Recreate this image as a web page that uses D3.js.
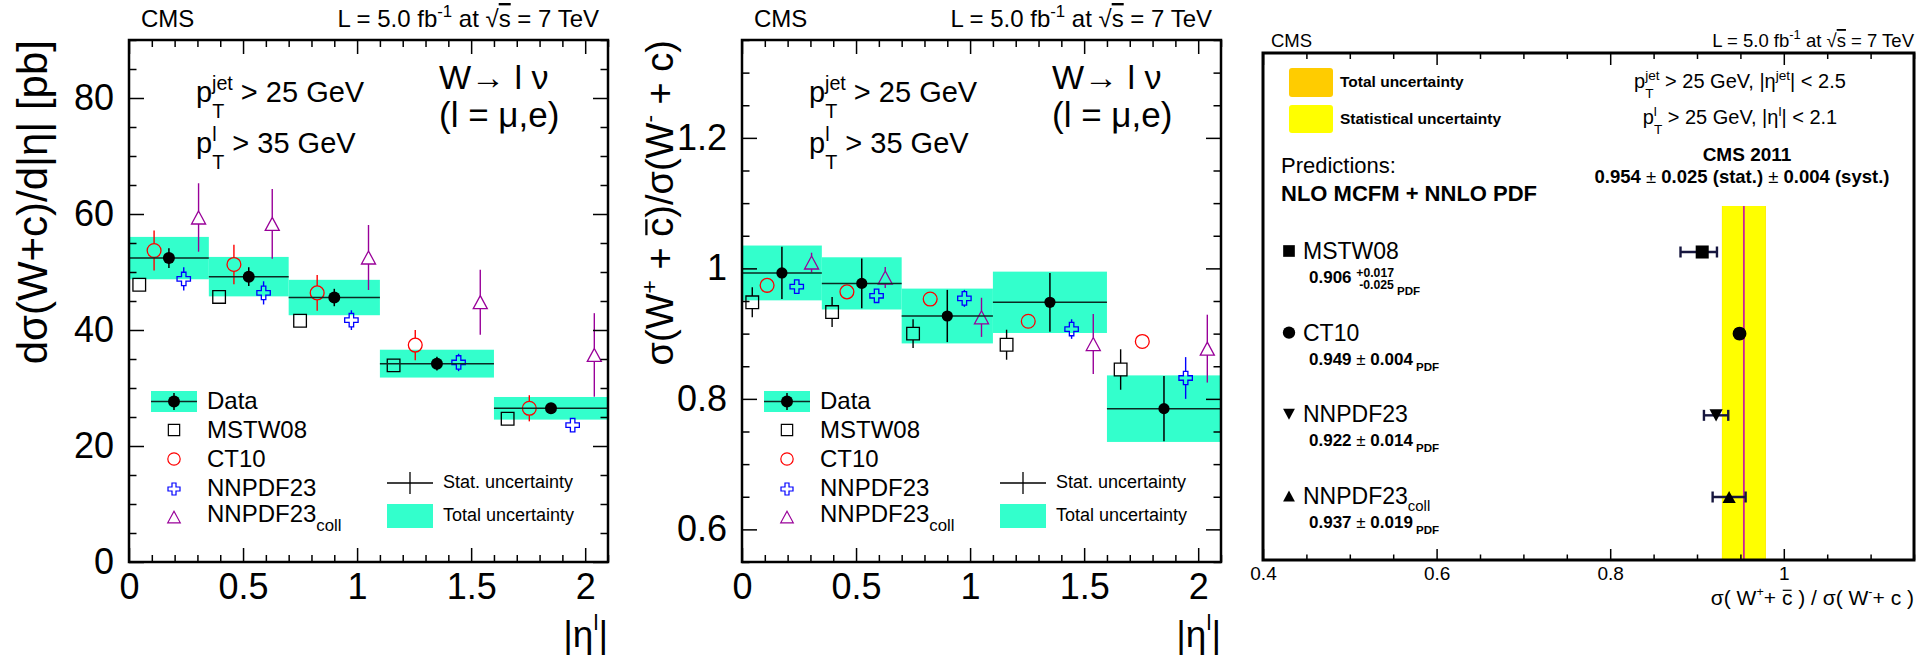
<!DOCTYPE html>
<html>
<head>
<meta charset="utf-8">
<script src="https://cdn.jsdelivr.net/npm/d3@7"></script>
<style>
  body { margin: 0; background: #fff; }
  text { font-family: "Liberation Sans", Arial, Helvetica, sans-serif; white-space: pre; fill: #000; }
</style>
</head>
<body>
<svg id="chart" width="1930" height="659"></svg>
<script>
// ---- data ----
const etaEdges = [0, 0.35, 0.7, 1.1, 1.6, 2.1];
const etaData  = [0.175, 0.525, 0.9, 1.35, 1.85];
const etaMSTW  = [0.045, 0.395, 0.75, 1.16, 1.66];
const etaCT10  = [0.11, 0.46, 0.825, 1.255, 1.755];
const etaNNPDF = [0.24, 0.59, 0.975, 1.445, 1.945];
const etaColl  = [0.305, 0.628, 1.05, 1.54, 2.04];

// dsigma/d|eta| [pb]
const xsData  = [52.4, 49.2, 45.6, 34.2, 26.5];
const xsStat  = [1.7, 1.6, 1.5, 1.2, 0.7];
const xsTotal = [3.65, 3.4, 3.05, 2.4, 1.95];
const xsMSTW  = [47.8, 45.7, 41.6, 33.9, 24.7];
const xsMSTWErr = [0, 0, 0, 0, 0];
const xsCT10  = [53.7, 51.3, 46.4, 37.4, 26.5];
const xsCT10Err = [3.45, 3.4, 3.1, 2.6, 2.25];
const xsNNPDF = [48.8, 46.4, 41.7, 34.4, 23.6];
const xsNNPDFErr = [2.0, 2.0, 1.7, 1.5, 1.0];
const xsColl  = [59.4, 58.3, 52.5, 44.8, 35.7];
const xsCollErr = [5.9, 6.0, 5.6, 5.6, 7.2];

// ratio W+cbar / W-c
const rData  = [0.993, 0.977, 0.927, 0.948, 0.785];
const rStat  = [0.040, 0.038, 0.040, 0.045, 0.050];
const rTotal = [0.042, 0.040, 0.042, 0.047, 0.051];
const rMSTW  = [0.948, 0.933, 0.900, 0.883, 0.845];
const rMSTWErr = [0.023, 0.023, 0.022, 0.023, 0.031];
const rCT10  = [0.974, 0.964, 0.953, 0.919, 0.888];
const rCT10Err = [0.004, 0.004, 0.004, 0.004, 0.004];
const rNNPDF = [0.972, 0.958, 0.954, 0.907, 0.832];
const rNNPDFErr = [0.010, 0.010, 0.013, 0.015, 0.032];
const rColl  = [1.009, 0.986, 0.925, 0.884, 0.877];
const rCollErr = [0.015, 0.016, 0.030, 0.046, 0.052];

// integrated ratio
const predNames = ["MSTW08", "CT10", "NNPDF23", "NNPDF23coll"];
const predValue = [0.906, 0.949, 0.922, 0.937];
const predErrUp = [0.017, 0.004, 0.014, 0.019];
const predErrDown = [0.025, 0.004, 0.014, 0.019];
const measValue = 0.954, measStat = 0.025, measSyst = 0.004;

// ticks
const etaTicks = [0, 0.5, 1, 1.5, 2];
const xsTicks = [0, 20, 40, 60, 80];
const rTicks = [0.6, 0.8, 1, 1.2];
const ratioTicks = [0.4, 0.6, 0.8, 1];

// ---- styles ----
const TEAL = "#33ffcc";
const FONT = '"Liberation Sans", Arial, Helvetica, sans-serif';
const modelColors = ["#000000", "#ff0000", "#0000ff", "#990099"];

const triUp = { draw(c, s) { const r = Math.sqrt(s) / 2; c.moveTo(0, -r); c.lineTo(r * 1.08, r); c.lineTo(-r * 1.08, r); c.closePath(); } };
const triDown = { draw(c, s) { const r = Math.sqrt(s) / 2; c.moveTo(0, r); c.lineTo(r * 1.08, -r); c.lineTo(-r * 1.08, -r); c.closePath(); } };
const modelSymbols = [d3.symbolSquare, d3.symbolCircle, d3.symbolCross, triUp];
const modelSizes = [160, 150, 100, 169];
const modelHalf = [6.3, 6.9, 6.7, 6.5];

const svg = d3.select("#chart");

// text with super/subscripts; "ol" draws a bar over the piece
function rich(sel, parts, fs) {
  let cur = 0;
  const base = +sel.attr("y") || 0;
  const bars = [];
  parts.forEach(p => {
    if (typeof p === "string") p = { t: p };
    let off = 0, size = fs;
    if (p.sup) { off = -(p.up || 0.42) * fs; size = fs * (p.scale || 0.65); }
    if (p.sub) { off = (p.down || 0.3) * fs; size = fs * (p.scale || 0.65); }
    const ts = sel.append("tspan").text(p.t).attr("font-size", size);
    if (off - cur !== 0) ts.attr("dy", off - cur);
    if (p.dx) ts.attr("dx", p.dx * fs);
    if (p.bold) ts.attr("font-weight", "bold");
    if (p.normal) ts.attr("font-weight", "normal");
    if (p.deco) ts.style("text-decoration", "overline");
    if (p.ol) bars.push({ ts, y: base + off - 0.7 * size, w: Math.max(1.2, size * 0.06) });
    cur = off;
  });
  // measure once the whole line is laid out (anchor shifts the pieces)
  bars.forEach(b => {
    const bb = b.ts.node().getBBox();
    d3.select(sel.node().parentNode).append("line")
      .attr("x1", bb.x + bb.width * 0.08).attr("x2", bb.x + bb.width * 0.92)
      .attr("y1", b.y).attr("y2", b.y)
      .attr("stroke", "#000").attr("stroke-width", b.w);
  });
  return sel;
}
function label(g, x, y, fs, parts, anchor, weight) {
  const t = g.append("text").attr("x", x).attr("y", y).attr("font-size", fs)
    .attr("text-anchor", anchor || "start").attr("font-weight", weight || "normal");
  return rich(t, parts, fs);
}

function axis(g, fn, scale, vals, len, fmt, pad, fs, tr) {
  const a = fn(scale).tickValues(vals).tickSizeInner(-len).tickSizeOuter(0)
    .tickPadding(pad || 0).tickFormat(fmt || (() => ""));
  const ag = g.append("g").attr("transform", tr || null).attr("font-family", FONT).call(a);
  ag.select(".domain").remove();
  ag.selectAll("line").attr("stroke", "#000").attr("stroke-width", 1.5);
  ag.selectAll("text").attr("font-size", fs || 10).attr("fill", "#000");
}
function minors(lo, hi, step, major) {
  return d3.range(Math.round(lo / step), Math.round(hi / step) + 1).map(k => +(k * step).toFixed(4))
    .filter(v => v >= lo - 1e-9 && v <= hi + 1e-9 && !major.some(m => Math.abs(m - v) < 1e-6));
}

function header(x0, x1, y, fs) {
  label(svg, x0, y, fs, ["CMS"]);
  label(svg, x1, y, fs, ["L = 5.0 fb", { t: "-1", sup: 1, scale: 0.7 }, { t: " at √" }, { t: "s", deco: 1 }, " = 7 TeV"], "end");
}

// ---- |eta| panels ----
function etaPanel(x0, cfg) {
  const W = 479, H = 522;
  const g = svg.append("g").attr("transform", `translate(${x0},40)`);
  const x = d3.scaleLinear().domain([0, 2.1]).range([0, W]);
  const y = d3.scaleLinear().domain(cfg.domain).range([H, 0]);

  const bins = cfg.data.map((v, i) => ({ lo: etaEdges[i], hi: etaEdges[i + 1], v, xc: etaData[i], stat: cfg.stat[i], tot: cfg.total[i] }));
  g.append("g").selectAll("rect").data(bins).join("rect")
    .attr("x", d => x(d.lo)).attr("width", d => x(d.hi) - x(d.lo))
    .attr("y", d => y(d.v + d.tot)).attr("height", d => y(d.v - d.tot) - y(d.v + d.tot))
    .attr("fill", TEAL);

  // predictions
  cfg.models.forEach((m, k) => {
    const pts = m.values.map((v, i) => ({ x: m.eta[i], v, e: m.err[i] }));
    const h = modelHalf[k];
    const eg = g.append("g").attr("stroke", modelColors[k]).attr("stroke-width", 1.4);
    pts.filter(p => y(p.v - p.e) - y(p.v + p.e) > 2 * h).forEach(p => {
      eg.append("line").attr("x1", x(p.x)).attr("x2", x(p.x)).attr("y1", y(p.v + p.e)).attr("y2", y(p.v) - h);
      eg.append("line").attr("x1", x(p.x)).attr("x2", x(p.x)).attr("y1", y(p.v) + h).attr("y2", y(p.v - p.e));
    });
    g.append("g").selectAll("path").data(pts).join("path")
      .attr("transform", p => `translate(${x(p.x)},${y(p.v)})`)
      .attr("d", d3.symbol(modelSymbols[k], modelSizes[k]))
      .attr("fill", "none").attr("stroke", modelColors[k]).attr("stroke-width", 1.3);
  });

  // data
  const dg = g.append("g").attr("stroke", "#000").attr("stroke-width", 1.5);
  bins.forEach(d => {
    dg.append("line").attr("x1", x(d.lo)).attr("x2", x(d.hi)).attr("y1", y(d.v)).attr("y2", y(d.v)).attr("stroke", "#0a2a22");
    dg.append("line").attr("x1", x(d.xc)).attr("x2", x(d.xc)).attr("y1", y(d.v + d.stat)).attr("y2", y(d.v - d.stat));
  });
  g.append("g").selectAll("circle").data(bins).join("circle")
    .attr("cx", d => x(d.xc)).attr("cy", d => y(d.v)).attr("r", cfg.r).attr("fill", "#000");

  // axes
  axis(g, d3.axisBottom, x, etaTicks, 14, d => String(d), 11, 36, `translate(0,${H})`);
  axis(g, d3.axisBottom, x, minors(0, 2.1, 0.1, etaTicks), 7, null, 0, 10, `translate(0,${H})`);
  axis(g, d3.axisTop, x, etaTicks, 14);
  axis(g, d3.axisTop, x, minors(0, 2.1, 0.1, etaTicks), 7);
  axis(g, d3.axisLeft, y, cfg.ticks, 15, d => String(d), 15, 36);
  axis(g, d3.axisLeft, y, minors(cfg.domain[0], cfg.domain[1], cfg.minor, cfg.ticks), 7.5);
  axis(g, d3.axisRight, y, cfg.ticks, 15, null, 0, 10, `translate(${W},0)`);
  axis(g, d3.axisRight, y, minors(cfg.domain[0], cfg.domain[1], cfg.minor, cfg.ticks), 7.5, null, 0, 10, `translate(${W},0)`);
  g.append("rect").attr("width", W).attr("height", H).attr("fill", "none").attr("stroke", "#000").attr("stroke-width", 2.5);

  // titles
  const tg = g.append("g").attr("transform", `translate(${cfg.titleX},0) rotate(-90)`);
  const yt = tg.append("text").attr("x", 0).attr("y", 0).attr("text-anchor", "end").attr("font-size", cfg.titleSize);
  rich(yt, cfg.title, cfg.titleSize);
  label(g, W, 607, 37, ["|η", { t: "l", sup: 1, scale: 0.6, up: 0.45 }, { t: "|" }], "end");

  label(g, 67, 62, 29, ["p", { t: "T", sub: 1, down: 0.55, scale: 0.68 }, { t: "jet", sup: 1, up: 0.42, scale: 0.68, dx: -0.42 }, { t: " > 25 GeV" }]);
  label(g, 67, 113, 29, ["p", { t: "l", sup: 1, up: 0.42, scale: 0.68 }, { t: "T", sub: 1, down: 0.55, scale: 0.68, dx: -0.15 }, { t: " > 35 GeV" }]);
  label(g, 310, 49, 34, ["W→ l ν"]);
  label(g, 310, 87, 35, ["(l = μ,e)"]);

  // legend
  const lg = g.append("g");
  lg.append("rect").attr("x", 22).attr("y", 351).attr("width", 46).attr("height", 21).attr("fill", TEAL);
  lg.append("line").attr("x1", 22).attr("x2", 68).attr("y1", 361.5).attr("y2", 361.5).attr("stroke", "#0a2a22").attr("stroke-width", 1.5);
  lg.append("line").attr("x1", 45).attr("x2", 45).attr("y1", 353).attr("y2", 370).attr("stroke", "#000").attr("stroke-width", 1.5);
  lg.append("circle").attr("cx", 45).attr("cy", 361.5).attr("r", 6).attr("fill", "#000");
  label(lg, 78, 369, 24, ["Data"]);
  const legY = [390, 419, 449, 477];
  const legBase = [398, 427, 456, 482];
  predNames.forEach((n, k) => {
    lg.append("path").attr("transform", `translate(45,${legY[k]})`)
      .attr("d", d3.symbol(modelSymbols[k], modelSizes[k] * 0.8))
      .attr("fill", "none").attr("stroke", modelColors[k]).attr("stroke-width", 1.2);
    const parts = n.endsWith("coll") ? ["NNPDF23", { t: "coll", sub: 1, down: 0.38, scale: 0.7 }] : [n];
    label(lg, 78, legBase[k], 24, parts);
  });
  lg.append("line").attr("x1", 258).attr("x2", 304).attr("y1", 443).attr("y2", 443).attr("stroke", "#000").attr("stroke-width", 1.3);
  lg.append("line").attr("x1", 281).attr("x2", 281).attr("y1", 432).attr("y2", 454).attr("stroke", "#000").attr("stroke-width", 1.3);
  label(lg, 314, 448, 18, ["Stat. uncertainty"]);
  lg.append("rect").attr("x", 258).attr("y", 464).attr("width", 46).attr("height", 24).attr("fill", TEAL);
  label(lg, 314, 481, 18, ["Total uncertainty"]);
}

etaPanel(129, {
  domain: [0, 90], ticks: xsTicks, minor: 5, r: 6,
  data: xsData, stat: xsStat, total: xsTotal,
  models: [
    { eta: etaMSTW, values: xsMSTW, err: xsMSTWErr },
    { eta: etaCT10, values: xsCT10, err: xsCT10Err },
    { eta: etaNNPDF, values: xsNNPDF, err: xsNNPDFErr },
    { eta: etaColl, values: xsColl, err: xsCollErr }
  ],
  titleX: -82, titleSize: 42, title: ["dσ(W+c)/d|η| [pb]"]
});
etaPanel(742, {
  domain: [0.55, 1.35], ticks: rTicks, minor: 0.05, r: 5.6,
  data: rData, stat: rStat, total: rTotal,
  models: [
    { eta: etaMSTW, values: rMSTW, err: rMSTWErr },
    { eta: etaCT10, values: rCT10, err: rCT10Err },
    { eta: etaNNPDF, values: rNNPDF, err: rNNPDFErr },
    { eta: etaColl, values: rColl, err: rCollErr }
  ],
  titleX: -69, titleSize: 38, title: ["σ(W", { t: "+", sup: 1, scale: 0.6 }, { t: " + " }, { t: "c", ol: 1 }, ")/σ(W", { t: "-", sup: 1, scale: 0.6 }, { t: " + c)" }]
});
header(141, 599, 27, 24);
header(754, 1212, 27, 24);

// ---- integrated ratio panel ----
(function () {
  const W = 651, H = 507;
  const g = svg.append("g").attr("transform", "translate(1263,53)");
  const x = d3.scaleLinear().domain([0.4, 1.15]).range([0, W]);
  const y = d3.scalePoint().domain(predNames).range([199, 444]);
  const bandTop = 153;
  const tot = Math.sqrt(measStat * measStat + measSyst * measSyst);
  const f3 = d3.format(".3f");

  g.append("rect").attr("x", x(measValue - tot)).attr("width", x(measValue + tot) - x(measValue - tot))
    .attr("y", bandTop).attr("height", H - bandTop).attr("fill", "#ffcc00");
  g.append("rect").attr("x", x(measValue - measStat)).attr("width", x(measValue + measStat) - x(measValue - measStat))
    .attr("y", bandTop).attr("height", H - bandTop).attr("fill", "#ffff00");
  g.append("line").attr("x1", x(measValue)).attr("x2", x(measValue)).attr("y1", bandTop).attr("y2", H)
    .attr("stroke", "#cc2299").attr("stroke-width", 1.8);

  const syms = [d3.symbolSquare, d3.symbolCircle, triDown, triUp];
  const sz = [170, 150, 150, 150];
  predNames.forEach((n, k) => {
    const yy = y(n), lo = x(predValue[k] - predErrDown[k]), hi = x(predValue[k] + predErrUp[k]);
    const eg = g.append("g").attr("stroke", "#16163f").attr("stroke-width", 2.4);
    eg.append("line").attr("x1", lo).attr("x2", hi).attr("y1", yy).attr("y2", yy);
    eg.append("line").attr("x1", lo).attr("x2", lo).attr("y1", yy - 5.5).attr("y2", yy + 5.5);
    eg.append("line").attr("x1", hi).attr("x2", hi).attr("y1", yy - 5.5).attr("y2", yy + 5.5);
    g.append("path").attr("transform", `translate(${x(predValue[k])},${yy})`).attr("d", d3.symbol(syms[k], sz[k])).attr("fill", "#000");

    // row labels
    g.append("path").attr("transform", `translate(26,${yy - 1})`).attr("d", d3.symbol(syms[k], sz[k] * 0.8)).attr("fill", "#000");
    const nameParts = n.endsWith("coll") ? ["NNPDF23", { t: "coll", sub: 1, down: 0.3, scale: 0.65 }] : [n];
    label(g, 40, yy + 7, 23, nameParts);
    if (predErrUp[k] !== predErrDown[k]) {
      label(g, 46, yy + 31, 17, [f3(predValue[k]) + " ",
        { t: "+" + f3(predErrUp[k]), sup: 1, up: 0.35, scale: 0.72 },
        { t: "-" + f3(predErrDown[k]), sub: 1, down: 0.35, scale: 0.72, dx: -2.05 },
        { t: " PDF", sub: 1, down: 0.7, scale: 0.68 }], "start", "bold");
    } else {
      label(g, 46, yy + 31, 17, [f3(predValue[k]) + " ", { t: "±", normal: 1 }, " " + f3(predErrUp[k]),
        { t: " PDF", sub: 1, down: 0.35, scale: 0.68 }], "start", "bold");
    }
  });

  // legend and text
  g.append("rect").attr("x", 26).attr("y", 15).attr("width", 44).attr("height", 29).attr("rx", 3).attr("fill", "#ffcc00");
  g.append("rect").attr("x", 26).attr("y", 52).attr("width", 44).attr("height", 28).attr("rx", 3).attr("fill", "#ffff00");
  label(g, 77, 34, 15.5, ["Total uncertainty"], "start", "bold");
  label(g, 77, 71, 15.5, ["Statistical uncertainty"], "start", "bold");
  label(g, 477, 35, 20, ["p", { t: "T", sub: 1, down: 0.5, scale: 0.68 }, { t: "jet", sup: 1, up: 0.42, scale: 0.68, dx: -0.42 }, " > 25 GeV, |η", { t: "jet", sup: 1, up: 0.42, scale: 0.68 }, "| < 2.5"], "middle");
  label(g, 477, 71, 20, ["p", { t: "l", sup: 1, up: 0.42, scale: 0.68 }, { t: "T", sub: 1, down: 0.5, scale: 0.68, dx: -0.15 }, " > 25 GeV, |η", { t: "l", sup: 1, up: 0.42, scale: 0.68 }, "| < 2.1"], "middle");
  label(g, 484, 108, 19, ["CMS 2011"], "middle", "bold");
  label(g, 479, 130, 18.5, [f3(measValue) + " ", { t: "±", normal: 1 }, " " + f3(measStat) + " (stat.) ", { t: "±", normal: 1 }, " " + f3(measSyst) + " (syst.)"], "middle", "bold");
  label(g, 18, 120, 22, ["Predictions:"]);
  label(g, 18, 148, 22, ["NLO MCFM + NNLO PDF"], "start", "bold");

  const maj = ratioTicks;
  axis(g, d3.axisBottom, x, maj, 11, d => String(d), 7, 19, `translate(0,${H})`);
  axis(g, d3.axisBottom, x, minors(0.4, 1.15, 0.05, maj), 5.5, null, 0, 10, `translate(0,${H})`);
  axis(g, d3.axisTop, x, maj, 12);
  axis(g, d3.axisTop, x, minors(0.4, 1.15, 0.05, maj), 6);
  g.append("rect").attr("width", W).attr("height", H).attr("fill", "none").attr("stroke", "#000").attr("stroke-width", 3);
  label(g, W, 552, 21, ["σ( W", { t: "+", sup: 1, scale: 0.6 }, { t: "+ " }, { t: "c", ol: 1 }, " ) / σ( W", { t: "-", sup: 1, scale: 0.6 }, { t: "+ c )" }], "end");
})();
header(1271, 1914, 47, 18.5);
</script>
</body>
</html>
